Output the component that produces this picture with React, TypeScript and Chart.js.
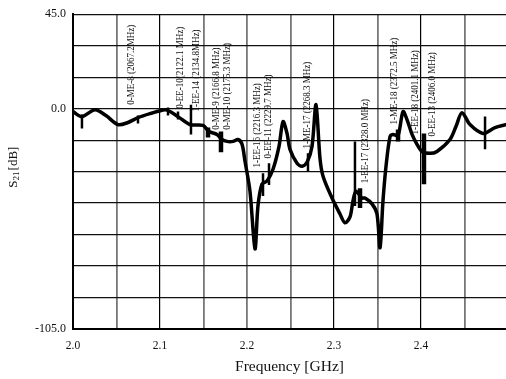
import { useEffect, useRef } from 'react';
import { Chart, registerables } from 'chart.js';

Chart.register(...registerables);

// Main S21 trace (frequency in GHz, level in dB)
const curveFreq = [
  2.0, 2.0103, 2.0253, 2.0379, 2.0517, 2.0632, 2.0747, 2.0885, 2.1057, 2.1115,
  2.1207, 2.1345, 2.1494, 2.1563, 2.1655, 2.1713, 2.177, 2.1839, 2.1897, 2.1943,
  2.1977, 2.2034, 2.2092, 2.2126, 2.2172, 2.223, 2.2299, 2.2368, 2.2414, 2.246,
  2.2494, 2.2575, 2.2632, 2.269, 2.2747, 2.2793, 2.2839, 2.2874, 2.2977, 2.3069,
  2.3126, 2.3184, 2.3218, 2.3253, 2.3322, 2.3356, 2.3437, 2.3494, 2.3529, 2.3563,
  2.3598, 2.3644, 2.3678, 2.3736, 2.3793, 2.3839, 2.3897, 2.3954, 2.4011, 2.4103,
  2.4184, 2.4333, 2.4402, 2.4471, 2.4563, 2.4713, 2.4851, 2.4977,
];
const curveDb = [
  -1.4, -3.8, -0.5, -3.3, -7.6, -6.6, -4.3, -2.4, -0.5, -1.4,
  -3.8, -7.6, -8.0, -10.9, -12.3, -14.7, -15.6, -15.6, -14.7, -17.0,
  -25.1, -39.3, -66.8, -46.4, -36.0, -34.5, -28.9, -18.0, -6.2, -11.8,
  -19.4, -26.0, -27.4, -25.6, -18.0, 1.9, -23.7, -32.2, -42.6, -50.2,
  -54.4, -51.6, -44.0, -39.3, -42.6, -42.6, -45.4, -50.2, -66.3, -44.0,
  -27.4, -13.3, -12.3, -12.8, -1.4, -5.2, -12.3, -17.0, -20.4, -21.3,
  -20.4, -14.7, -8.5, -1.9, -7.6, -11.8, -9.0, -7.6,
];

// Narrow resonance spikes
const thinSpikeFreq = [2.0103, 2.0747, 2.1092, 2.1207, 2.1356, 2.2184, 2.2253, 2.2701, 2.3241, 2.4736];
const thinSpikeTop = [-2.8, -3.3, 0.5, -1.4, 1.9, -30.8, -26.0, -21.3, -15.6, -3.8];
const thinSpikeBottom = [-9.5, -7.1, -3.3, -5.2, -12.3, -41.6, -36.4, -29.8, -46.4, -19.4];

// Wider resonance blocks
const blockSpikeFreq = [2.1552, 2.1701, 2.3299, 2.3736, 2.4034];
const blockSpikeTop = [-9.0, -10.9, -37.9, -9.9, -11.8];
const blockSpikeBottom = [-13.7, -20.8, -47.3, -15.6, -36.0];

// Mode annotations
const markerLabels = [
  '0-ME-8 (2067.2MHz)',
  '0-EE-10(2122.1 MHz)',
  '1-EE-14 (2134.8MHz)',
  '0-ME-9 (2166.8 MHz)',
  '0-ME-10 (2175.3 MHz)',
  '1-EE-16 (2216.3 MHz)',
  '0-EE-11 (2229.7 MHz)',
  '1-ME-17 (2268.3 MHz)',
  '1-EE-17 (2328.0 MHz)',
  '1-ME-18 (2372.5 MHz)',
  '1-EE-18 (2401.1 MHz)',
  '0-EE-13 (2406.0 MHz)',
];
const markerFreq = [2.0667, 2.123, 2.1414, 2.1644, 2.177, 2.2115, 2.224, 2.269, 2.3356, 2.369, 2.394, 2.4126];
const markerBaseDb = [1.9, 0.0, -1.4, -10.0, -10.0, -28.0, -23.7, -19.0, -35.5, -7.6, -12.3, -13.3];

// Axes
const xGridValues = [2.0, 2.05, 2.1, 2.15, 2.2, 2.25, 2.3, 2.35, 2.4, 2.45];
const xTickValues = [2.0, 2.1, 2.2, 2.3, 2.4];
const xTickLabels = ['2.0', '2.1', '2.2', '2.3', '2.4'];
const xBlackGrid = [2.1, 2.3, 2.4];
const yGridValues = [45, 30, 15, 0, -15, -30, -45, -60, -75, -90, -105];
const yTickValues = [45, 0, -105];
const yTickLabels = ['45.0', '0.0', '-105.0'];
const xTitle = 'Frequency [GHz]';

const SERIF = '"Liberation Serif", "Times New Roman", serif';

function spikeData(freq: number[], top: number[], bottom: number[]) {
  const out: any[] = [];
  freq.forEach((f, i) => {
    out.push({ x: f, y: top[i] });
    out.push({ x: f, y: bottom[i] });
    out.push({ x: f, y: null });
  });
  return out;
}

const near = (a: number, b: number) => Math.abs(a - b) < 1e-6;

const annotPlugin = {
  id: 'annot',
  beforeDatasetsDraw(chart: any) {
    const { ctx, scales } = chart;
    const x = scales.x;
    const y = scales.y;
    ctx.save();
    ctx.fillStyle = '#111';
    ctx.font = `10px ${SERIF}`;
    ctx.textBaseline = 'middle';
    ctx.textAlign = 'left';
    markerLabels.forEach((t, i) => {
      const px = x.getPixelForValue(markerFreq[i]);
      const py = y.getPixelForValue(markerBaseDb[i]);
      ctx.save();
      ctx.translate(px, py);
      ctx.rotate(-Math.PI / 2);
      ctx.scale(0.9, 1);
      ctx.fillText(t, 0, 0);
      ctx.restore();
    });
    ctx.restore();
  },
  afterDraw(chart: any) {
    const { ctx, chartArea } = chart;
    ctx.save();
    ctx.fillStyle = '#111';
    ctx.textBaseline = 'middle';
    ctx.textAlign = 'left';
    const big = `13px ${SERIF}`;
    const small = `9px ${SERIF}`;
    ctx.font = big;
    const wS = ctx.measureText('S').width;
    const wU = ctx.measureText('[dB]').width;
    ctx.font = small;
    const w21 = ctx.measureText('21').width;
    const total = wS + w21 + wU;
    const cy = (chartArea.top + chartArea.bottom) / 2 - 4;
    ctx.translate(14, cy + total / 2);
    ctx.rotate(-Math.PI / 2);
    ctx.font = big;
    ctx.fillText('S', 0, 0);
    ctx.font = small;
    ctx.fillText('21', wS, 3);
    ctx.font = big;
    ctx.fillText('[dB]', wS + w21 + 1, 0);
    ctx.restore();
  },
};

export default function App() {
  const ref = useRef<HTMLCanvasElement>(null);
  useEffect(() => {
    document.body.style.margin = '0';
    const canvas = ref.current;
    if (!canvas) return;
    const chart = new Chart(canvas, {
      type: 'scatter',
      data: {
        datasets: [
          {
            data: curveFreq.map((f, i) => ({ x: f, y: curveDb[i] })),
            showLine: true,
            borderColor: '#000',
            borderWidth: 3.5,
            pointRadius: 0,
            tension: 0.3,
            borderJoinStyle: 'round',
            borderCapStyle: 'round',
          },
          {
            data: spikeData(thinSpikeFreq, thinSpikeTop, thinSpikeBottom),
            showLine: true,
            spanGaps: false,
            borderColor: '#000',
            borderWidth: 2.5,
            pointRadius: 0,
            tension: 0,
          },
          {
            data: spikeData(blockSpikeFreq, blockSpikeTop, blockSpikeBottom),
            showLine: true,
            spanGaps: false,
            borderColor: '#000',
            borderWidth: 4.5,
            pointRadius: 0,
            tension: 0,
          },
        ],
      } as any,
      options: {
        animation: false,
        responsive: false,
        maintainAspectRatio: false,
        layout: { padding: { top: 12, left: 0, right: 0, bottom: 0 } },
        plugins: { legend: { display: false }, tooltip: { enabled: false } },
        scales: {
          x: {
            type: 'linear',
            min: 2.0,
            max: 2.4977,
            afterBuildTicks: (s: any) => {
              s.ticks = xGridValues.map((v) => ({ value: v }));
            },
            afterFit: (s: any) => {
              s.height = 50;
            },
            ticks: {
              autoSkip: false,
              maxRotation: 0,
              padding: 10,
              color: '#111',
              font: { family: SERIF, size: 11.5 },
              callback: (v: any) => {
                const i = xTickValues.findIndex((t) => near(t, Number(v)));
                return i >= 0 ? xTickLabels[i] : '';
              },
            },
            grid: {
              drawTicks: false,
              color: (c: any) =>
                xBlackGrid.some((t) => near(t, c.tick?.value)) ? '#000' : '#777',
              lineWidth: (c: any) =>
                xBlackGrid.some((t) => near(t, c.tick?.value)) ? 1.2 : 1.8,
            },
            border: { display: true, color: '#000', width: 2 },
            title: {
              display: true,
              text: xTitle,
              color: '#111',
              font: { family: SERIF, size: 15.5 },
              padding: { top: 0, bottom: 3 },
            },
          },
          y: {
            type: 'linear',
            min: -105,
            max: 45,
            afterBuildTicks: (s: any) => {
              s.ticks = yGridValues.map((v) => ({ value: v }));
            },
            afterFit: (s: any) => {
              s.width = 73;
            },
            ticks: {
              autoSkip: false,
              padding: 7,
              color: '#111',
              font: { family: SERIF, size: 12 },
              callback: (v: any) => {
                const i = yTickValues.findIndex((t) => near(t, Number(v)));
                return i >= 0 ? yTickLabels[i] : '';
              },
            },
            grid: { drawTicks: false, color: '#111', lineWidth: 1.2 },
            border: { display: true, color: '#000', width: 2 },
          },
        },
      } as any,
      plugins: [annotPlugin],
    });
    return () => chart.destroy();
  }, []);
  return (
    <div style={{ position: 'absolute', left: 0, top: 0, width: 506, height: 379, background: '#fff' }}>
      <canvas ref={ref} width={506} height={379} style={{ display: 'block', width: 506, height: 379 }} />
    </div>
  );
}
